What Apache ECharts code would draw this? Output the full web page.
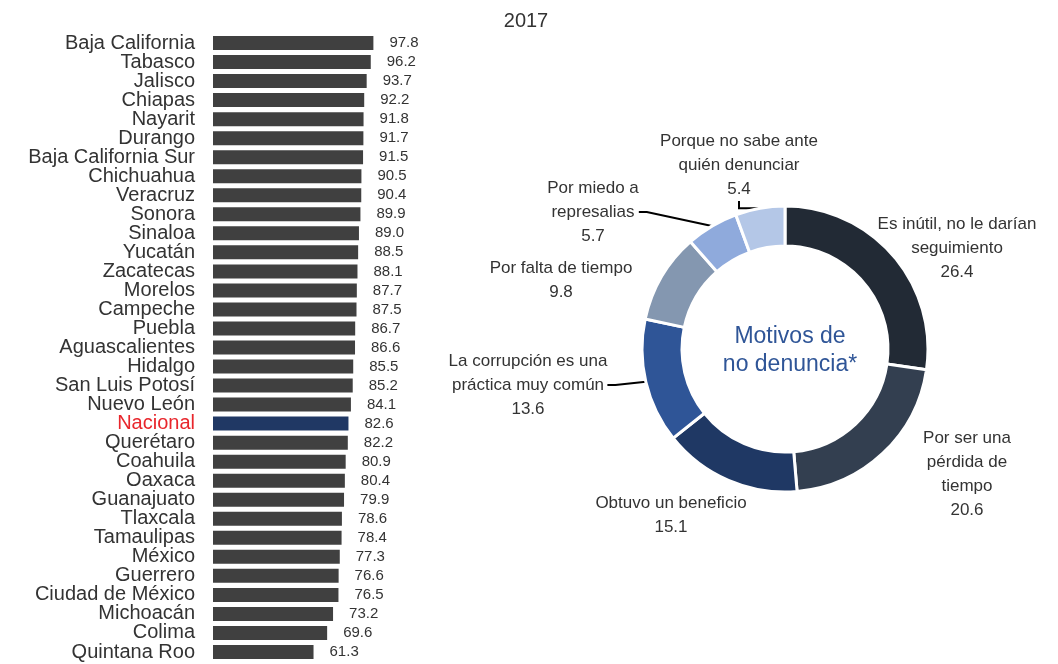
<!DOCTYPE html>
<html>
<head>
<meta charset="utf-8">
<script src="https://cdn.jsdelivr.net/npm/echarts@6/dist/echarts.min.js"></script>
<style>
html, body { margin: 0; padding: 0; background: #fff; }
#chart { width: 1058px; height: 664px; }
</style>
</head>
<body>
<div id="chart"></div>
<script>
// estados y porcentaje (2017)
const estados = [
  "Baja California", "Tabasco", "Jalisco", "Chiapas", "Nayarit", "Durango",
  "Baja California Sur", "Chichuahua", "Veracruz", "Sonora", "Sinaloa", "Yucatán",
  "Zacatecas", "Morelos", "Campeche", "Puebla", "Aguascalientes", "Hidalgo",
  "San Luis Potosí", "Nuevo León", "Nacional", "Querétaro", "Coahuila", "Oaxaca",
  "Guanajuato", "Tlaxcala", "Tamaulipas", "México", "Guerrero", "Ciudad de México",
  "Michoacán", "Colima", "Quintana Roo"
];
const porcentajes = [
  97.8, 96.2, 93.7, 92.2, 91.8, 91.7,
  91.5, 90.5, 90.4, 89.9, 89.0, 88.5,
  88.1, 87.7, 87.5, 86.7, 86.6, 85.5,
  85.2, 84.1, 82.6, 82.2, 80.9, 80.4,
  79.9, 78.6, 78.4, 77.3, 76.6, 76.5,
  73.2, 69.6, 61.3
];

// motivos de no denuncia
const motivos = [
  "Es inútil, no le darían\nseguimiento",
  "Por ser una\npérdida de\ntiempo",
  "Obtuvo un beneficio",
  "La corrupción es una\npráctica muy común",
  "Por falta de tiempo",
  "Por miedo a\nrepresalias",
  "Porque no sabe ante\nquién denunciar"
];
const motivosValores = [26.4, 20.6, 15.1, 13.6, 9.8, 5.7, 5.4];

const colores = ["#222a35", "#333f50", "#1f3864", "#2f5597", "#8497b0", "#8faadc", "#b4c7e7"];
// centro de cada etiqueta del anillo
const posEtiquetas = [[957, 248], [967, 474], [671, 515], [528, 385], [561, 280], [593, 212], [739, 165]];
const conLinea = [false, false, false, true, false, true, true];

const chart = echarts.init(document.getElementById("chart"));

const option = {
  animation: false,
  textStyle: { fontFamily: "Liberation Sans, Arial, sans-serif" },
  title: [
    {
      text: "2017",
      left: 521,
      top: 6,
      textAlign: "center",
      textStyle: { fontSize: 20, fontWeight: "normal", color: "#333" }
    },
    {
      text: "Motivos de\nno denuncia*",
      left: 785,
      top: 346,
      textAlign: "center",
      textVerticalAlign: "middle",
      textStyle: { fontSize: 23, fontWeight: "normal", color: "#2f5597", lineHeight: 28 }
    }
  ],
  grid: { left: 213, top: 33.5, width: 164, height: 628 },
  xAxis: { type: "value", min: 0, max: 100, show: false },
  yAxis: {
    type: "category",
    inverse: true,
    data: estados,
    axisLine: { show: false },
    axisTick: { show: false },
    axisLabel: {
      interval: 0,
      margin: 18,
      fontSize: 20,
      color: (value) => value === "Nacional" ? "#e8262c" : "#333"
    }
  },
  series: [
    {
      type: "bar",
      barWidth: 14,
      data: porcentajes.map((v, i) => ({
        value: v,
        itemStyle: { color: estados[i] === "Nacional" ? "#203864" : "#404040" }
      })),
      label: {
        show: true,
        position: "right",
        distance: 16,
        fontSize: 15,
        color: "#333",
        formatter: (p) => p.value.toFixed(1)
      }
    },
    {
      type: "pie",
      center: [785, 349],
      radius: [103, 143],
      startAngle: 90,
      itemStyle: { borderColor: "#fff", borderWidth: 3 },
      data: motivos.map((m, i) => ({
        name: m,
        value: motivosValores[i],
        itemStyle: { color: colores[i] },
        labelLine: { show: conLinea[i] }
      })),
      label: {
        show: true,
        position: "outside",
        fontSize: 17,
        lineHeight: 24,
        color: "#333",
        align: "center",
        overflow: "none",
        formatter: (p) => p.name + "\n" + p.value.toFixed(1)
      },
      labelLine: {
        length: 8,
        length2: 8,
        lineStyle: { color: "#000", width: 2 }
      },
      labelLayout: (params) => {
        const pos = posEtiquetas[params.dataIndex];
        return { x: pos[0], y: pos[1], align: "center", verticalAlign: "middle" };
      }
    }
  ]
};

chart.setOption(option);
</script>
</body>
</html>
